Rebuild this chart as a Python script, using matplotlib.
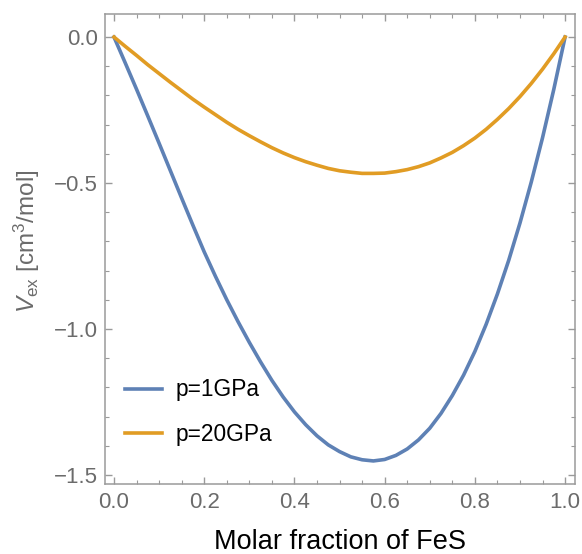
import numpy as np
import matplotlib
matplotlib.use("Agg")
from matplotlib import pyplot as plt
from matplotlib.ticker import MultipleLocator

# molar fraction of FeS
x = [0.0, 0.025, 0.05, 0.075, 0.1, 0.125, 0.15, 0.175, 0.2, 0.225, 0.25, 0.275,
     0.3, 0.325, 0.35, 0.375, 0.4, 0.425, 0.45, 0.475, 0.5, 0.525, 0.55, 0.575,
     0.6, 0.625, 0.65, 0.675, 0.7, 0.725, 0.75, 0.775, 0.8, 0.825, 0.85, 0.875,
     0.9, 0.925, 0.95, 0.975, 1.0]
# excess volume, cm^3/mol
v_1gpa = [0.0, -0.089, -0.179, -0.271, -0.364, -0.458, -0.552, -0.645, -0.736, -0.820,
          -0.900, -0.975, -1.046, -1.113, -1.176, -1.233, -1.284, -1.328, -1.366, -1.397,
          -1.420, -1.438, -1.448, -1.452, -1.447, -1.433, -1.411, -1.380, -1.340, -1.289,
          -1.228, -1.158, -1.077, -0.984, -0.880, -0.765, -0.637, -0.497, -0.345, -0.179, 0.0]
v_20gpa = [0.0, -0.032, -0.063, -0.095, -0.125, -0.155, -0.184, -0.213, -0.240, -0.266,
           -0.292, -0.316, -0.338, -0.359, -0.379, -0.397, -0.413, -0.427, -0.439, -0.450,
           -0.458, -0.463, -0.467, -0.467, -0.466, -0.461, -0.454, -0.444, -0.431, -0.414,
           -0.395, -0.372, -0.346, -0.316, -0.282, -0.245, -0.204, -0.159, -0.110, -0.057, 0.0]
labels = ["p=1GPa", "p=20GPa"]

plt.rcParams['font.family'] = ['Liberation Sans', 'DejaVu Sans']
plt.rcParams['mathtext.fontset'] = 'custom'
plt.rcParams['mathtext.rm'] = 'Liberation Sans'
plt.rcParams['mathtext.it'] = 'Liberation Sans:italic'

gray = '#9a9a9a'
tgray = '#6b6b6b'

fig = plt.figure(figsize=(5.82, 5.54), dpi=100)
ax = fig.add_axes([105/582, 1-484/554, 470/582, 470/554])

ax.plot(x, v_1gpa, color='#5E81B5', lw=2.6, label=labels[0], solid_joinstyle='round')
ax.plot(x, v_20gpa, color='#E19C24', lw=2.6, label=labels[1], solid_joinstyle='round')

ax.set_xlim(-0.02, 1.022)
ax.set_ylim(-1.531, 0.079)

ax.xaxis.set_major_locator(MultipleLocator(0.2))
ax.xaxis.set_minor_locator(MultipleLocator(0.05))
ax.yaxis.set_major_locator(MultipleLocator(0.5))
ax.yaxis.set_minor_locator(MultipleLocator(0.1))
ax.xaxis.set_major_formatter(lambda v, p: f"{v:.1f}")
ax.yaxis.set_major_formatter(lambda v, p: f"{v:.1f}".replace('-', '\u2212'))

ax.tick_params(which='both', direction='in', top=True, right=True, color=gray,
               labelcolor=tgray, labelsize=16)
ax.tick_params(which='major', length=5, width=1)
ax.tick_params(which='minor', length=3, width=0.8)
ax.tick_params(axis='x', pad=6)
ax.tick_params(axis='y', pad=5)
for s in ax.spines.values():
    s.set_color(gray)
    s.set_linewidth(1.1)

ax.set_xlabel("Molar fraction of FeS", fontsize=19.5, color='black', labelpad=11)
ax.set_ylabel(r"$V_{\rm ex}$ [cm$^3$/mol]", fontsize=17.5, color=tgray)
ax.yaxis.set_label_coords(-0.133, 0.517)

ax.legend(loc='upper left', bbox_to_anchor=(0.043, 0.2245), frameon=False,
          fontsize=16.4, handlelength=1.62, handletextpad=0.57, labelspacing=0.93,
          borderpad=0, borderaxespad=0)

fig.savefig("out.png", dpi=100)
